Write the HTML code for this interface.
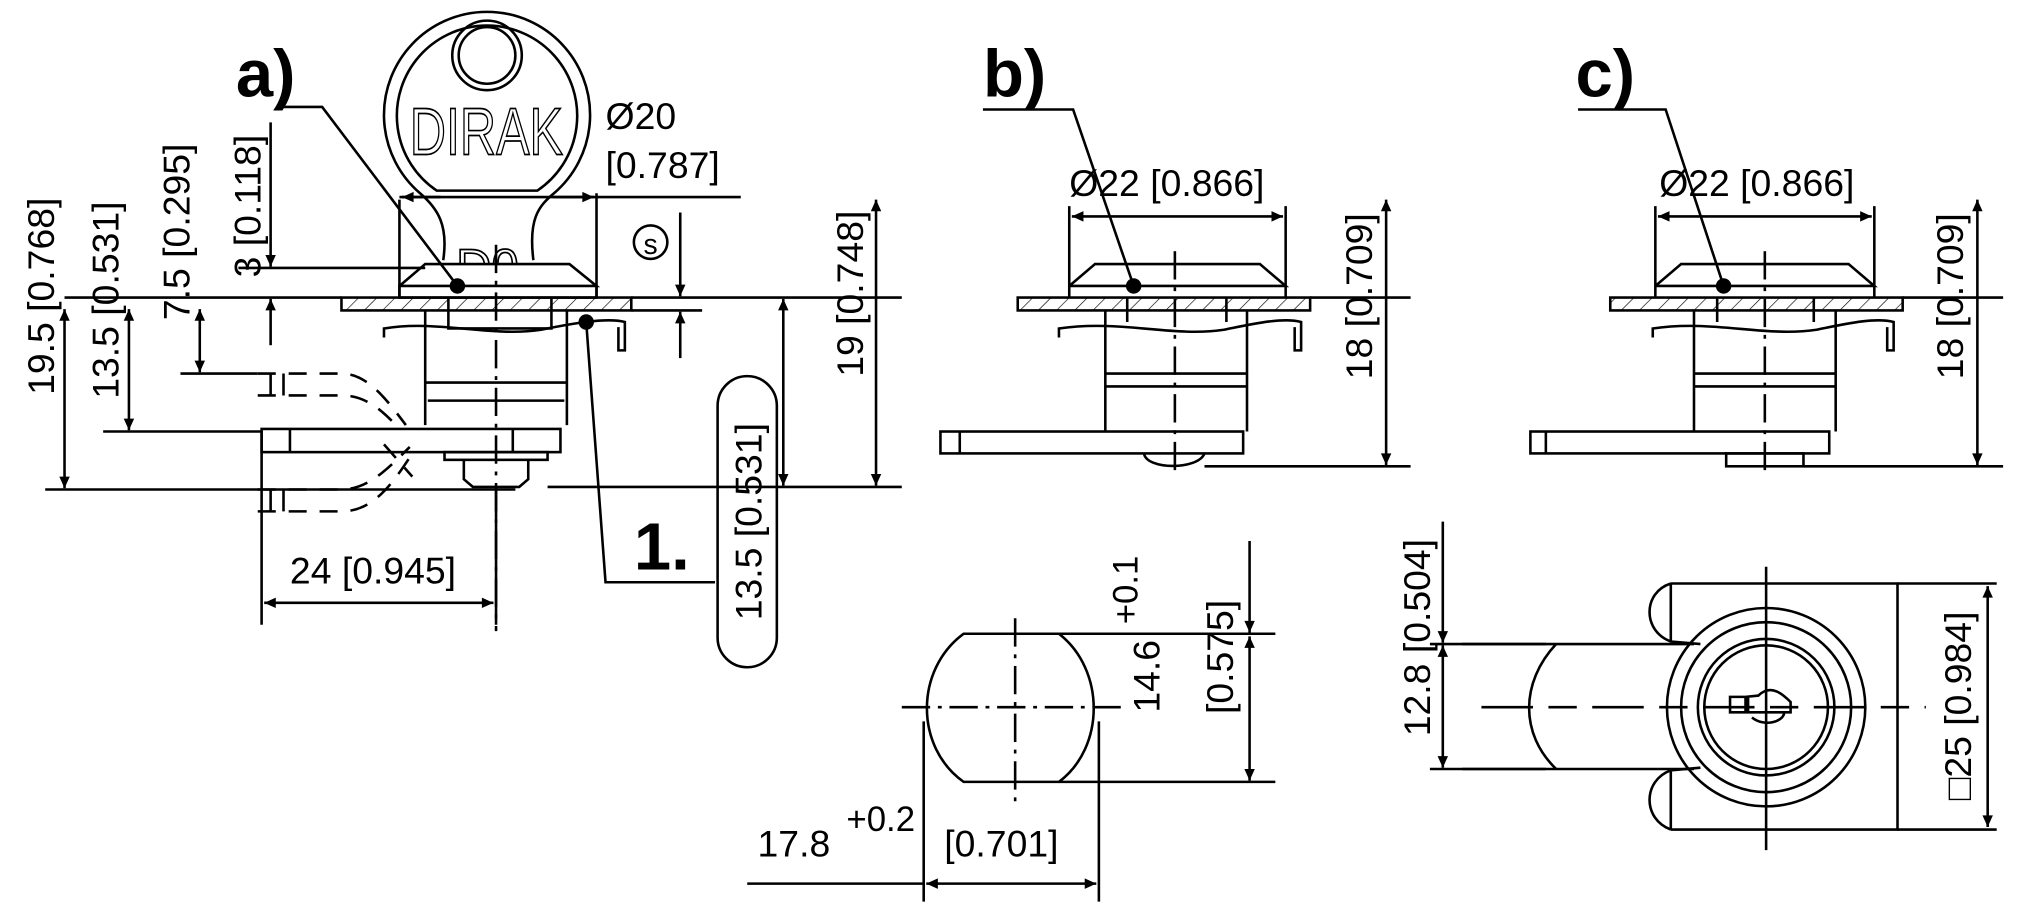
<!DOCTYPE html>
<html><head><meta charset="utf-8"><style>
html,body{margin:0;padding:0;background:#fff;}
svg{display:block}
text{font-family:"Liberation Sans",sans-serif;fill:#000}
.d{font-size:29px}
.b{font-size:52px;font-weight:bold}
</style></head><body>
<svg width="2020" height="921" viewBox="0 0 1568 715" xmlns="http://www.w3.org/2000/svg">
<defs>
<marker id="a" viewBox="0 0 10 10" refX="10" refY="5" markerWidth="20" markerHeight="9" markerUnits="userSpaceOnUse" orient="auto-start-reverse"><path d="M0,0.5 L10,5 L0,9.5z" fill="#000"/></marker>
<pattern id="h" width="10" height="10" patternUnits="userSpaceOnUse" patternTransform="rotate(45)"><line x1="0" y1="0" x2="0" y2="10" stroke="#000" stroke-width="1"/></pattern>
</defs>
<g fill="none" stroke="#000" stroke-width="2">
<!-- ===== a) ===== -->
<!-- key -->
<path d="M326,150 A80,80 0 1 1 430,150 C418,160 410,170 414,202 M326,150 C340,162 348,175 344,202"/>
<path d="M339,148 A70,70 0 1 1 417,148 Z"/>
<circle cx="378" cy="43" r="27"/><circle cx="378" cy="43" r="22"/>
<text x="318" y="120" font-size="52" textLength="119" lengthAdjust="spacingAndGlyphs" stroke="#000" stroke-width="1.3" style="fill:none">DIRAK</text>
<text x="354" y="220" font-size="38" stroke="#000" stroke-width="1.3" style="fill:none">D0</text>
<!-- bezel -->
<path d="M310,222 L330,205 L442,205 L463,222 L310,222 L310,231 L463,231 L463,222" fill="#fff"/>
<rect x="265" y="231" width="225" height="10" fill="url(#h)"/>
<path d="M330,241 L330,330 M440,241 L440,330 M330,297 L440,297 M332,311 L438,311 M348,231 L348,255 L428,255 L428,231"/>
<path d="M298,262 L298,255 C340,248 380,262 420,256 C440,252 470,246 485,250 L485,272 L480,272 L480,254"/>
<rect x="203" y="333" width="232" height="18"/>
<line x1="225" y1="333" x2="225" y2="351"/><line x1="398" y1="333" x2="398" y2="351"/>
<rect x="345" y="351" width="80" height="6"/>
<path d="M360,357 L360,372 L367,378 L403,378 L410,372 L410,357"/>
<!-- dashed cam -->
<g stroke-dasharray="14,10"><path d="M200,290 L265,290 C285,290 300,310 315,330"/><path d="M200,307 L265,307 C285,307 298,320 310,333"/><path d="M200,380 L265,380 C285,380 300,365 318,347"/><path d="M200,397 L265,397 C290,397 305,375 320,352"/><path d="M298,345 L320,370"/></g>
<path d="M210,290 L210,307 M220,290 L220,307 M210,380 L210,397 M220,380 L220,397"/>
<!-- centerline -->
<line x1="385" y1="190" x2="385" y2="490" stroke-dasharray="22,6,3,6"/>
<!-- leader a -->
<path d="M215,83 L250,83 L355,222" stroke-width="2"/>
<path d="M455,250 L470,452 L555,452"/>
<!-- dims a -->
<path d="M310,155 L310,231 M463,150 L463,231 M310,153 L575,153"/>
<line x1="312" y1="153" x2="342" y2="153" marker-start="url(#a)"/>
<line x1="430" y1="153" x2="461" y2="153" marker-end="url(#a)"/>
<path d="M35,380 L400,380 M80,335 L203,335 M140,290 L200,290 M185,208 L330,208 M50,231 L265,231"/>
<line x1="50" y1="240" x2="50" y2="379" marker-start="url(#a)" marker-end="url(#a)"/>
<line x1="100" y1="240" x2="100" y2="334" marker-start="url(#a)" marker-end="url(#a)"/>
<line x1="155" y1="240" x2="155" y2="289" marker-start="url(#a)" marker-end="url(#a)"/>
<line x1="210" y1="95" x2="210" y2="207" marker-end="url(#a)"/>
<line x1="210" y1="268" x2="210" y2="232" marker-end="url(#a)"/>
<path d="M203,335 L203,485 M385,380 L385,485"/>
<line x1="205" y1="468" x2="383" y2="468" marker-start="url(#a)" marker-end="url(#a)"/>
<path d="M490,231 L700,231 M490,241 L545,241 M425,378 L700,378"/>
<line x1="528" y1="165" x2="528" y2="230" marker-end="url(#a)"/>
<line x1="528" y1="278" x2="528" y2="242" marker-end="url(#a)"/>
<line x1="680" y1="155" x2="680" y2="377" marker-start="url(#a)" marker-end="url(#a)"/>
<line x1="608" y1="232" x2="608" y2="377" marker-start="url(#a)" marker-end="url(#a)"/>
<rect x="557" y="292" width="46" height="226" rx="23"/>
<circle cx="505" cy="188" r="13"/>
<!-- ===== b) ===== -->
<path d="M763,85 L833,85 L880,222"/>
<path d="M830,222 L850,205 L978,205 L998,222 L830,222 M830,160 L830,231 M998,160 L998,231"/>
<line x1="832" y1="168" x2="996" y2="168" marker-start="url(#a)" marker-end="url(#a)"/>
<rect x="790" y="231" width="227" height="10" fill="url(#h)"/>
<path d="M858,241 L858,335 M968,241 L968,335 M858,290 L968,290 M858,300 L968,300 M875,231 L875,250 M952,231 L952,250"/>
<path d="M822,262 L822,255 C870,248 910,262 950,256 C970,252 995,246 1010,250 L1010,272 L1005,272 L1005,254"/>
<rect x="730" y="335" width="235" height="17"/><line x1="745" y1="335" x2="745" y2="352"/>
<path d="M888,352 C890,365 930,365 935,352"/>
<line x1="912" y1="195" x2="912" y2="370" stroke-dasharray="22,6,3,6"/>
<path d="M1017,231 L1095,231 M935,362 L1095,362"/>
<line x1="1076" y1="155" x2="1076" y2="361" marker-start="url(#a)" marker-end="url(#a)"/>
<!-- ===== c) ===== -->
<path d="M1225,85 L1293,85 L1338,222"/>
<path d="M1285,222 L1305,205 L1435,205 L1455,222 L1285,222 M1285,160 L1285,231 M1455,160 L1455,231"/>
<line x1="1287" y1="168" x2="1453" y2="168" marker-start="url(#a)" marker-end="url(#a)"/>
<rect x="1250" y="231" width="227" height="10" fill="url(#h)"/>
<path d="M1315,241 L1315,335 M1425,241 L1425,335 M1315,290 L1425,290 M1315,300 L1425,300 M1333,231 L1333,250 M1408,231 L1408,250"/>
<path d="M1283,262 L1283,255 C1330,248 1370,262 1410,256 C1430,252 1455,246 1470,250 L1470,272 L1465,272 L1465,254"/>
<rect x="1188" y="335" width="232" height="17"/><line x1="1200" y1="335" x2="1200" y2="352"/>
<rect x="1340" y="352" width="60" height="10"/>
<line x1="1370" y1="195" x2="1370" y2="368" stroke-dasharray="22,6,3,6"/>
<path d="M1477,231 L1555,231 M1400,362 L1555,362"/>
<line x1="1535" y1="155" x2="1535" y2="361" marker-start="url(#a)" marker-end="url(#a)"/>
<!-- bottom middle cam profile -->
<path d="M748,492 L822,492 C858,520 858,580 822,607 L748,607 C710,580 710,520 748,492Z"/>
<path d="M700,549 L870,549 M788,480 L788,625" stroke-dasharray="22,6,3,6"/>
<path d="M822,492 L990,492 M822,607 L990,607 M717,560 L717,700 M853,560 L853,700 M580,686 L717,686"/>
<line x1="970" y1="420" x2="970" y2="491" marker-end="url(#a)"/>
<line x1="970" y1="494" x2="970" y2="606" marker-start="url(#a)" marker-end="url(#a)"/>
<line x1="719" y1="686" x2="851" y2="686" marker-start="url(#a)" marker-end="url(#a)"/>
<!-- bottom right -->
<path d="M1297,453 L1473,453 L1473,644 L1297,644 M1297,453 C1275,460 1275,490 1297,498 L1320,500 M1297,644 C1275,636 1275,606 1297,598 L1320,596 M1297,453 L1297,498 M1297,598 L1297,644"/>
<path d="M1135,500 L1208,500 C1180,530 1180,570 1208,597 L1135,597 M1208,500 L1315,500 M1208,597 L1315,597"/>
<circle cx="1371" cy="549" r="77"/><circle cx="1371" cy="549" r="66"/><circle cx="1371" cy="549" r="53"/><circle cx="1371" cy="549" r="48"/>
<path d="M1365,540 C1375,530 1385,540 1390,545 L1390,553 L1355,553 L1355,541 Z M1343,541 L1357,541 L1357,553 L1343,553Z M1360,557 C1370,565 1385,560 1385,553"/>
<line x1="1371" y1="440" x2="1371" y2="660"/>
<line x1="1150" y1="549" x2="1495" y2="549" stroke-dasharray="40,12,22,12"/>
<path d="M1473,453 L1550,453 M1473,644 L1550,644"/>
<line x1="1543" y1="455" x2="1543" y2="642" marker-start="url(#a)" marker-end="url(#a)"/>
<path d="M1110,500 L1200,500 M1110,597 L1200,597"/>
<line x1="1120" y1="405" x2="1120" y2="499" marker-end="url(#a)"/>
<line x1="1120" y1="501" x2="1120" y2="596" marker-start="url(#a)" marker-end="url(#a)"/>
</g>
<g fill="#000"><circle cx="355" cy="222" r="6"/><circle cx="455" cy="250" r="6"/><circle cx="880" cy="222" r="6"/><circle cx="1338" cy="222" r="6"/></g>
<!-- texts -->
<text class="b" x="183" y="75">a)</text>
<text class="b" x="763" y="75">b)</text>
<text class="b" x="1223" y="75">c)</text>
<text class="b" x="492" y="442">1.</text>
<text class="d" x="470" y="100">Ø20</text>
<text class="d" x="470" y="138">[0.787]</text>
<text x="505" y="197" font-size="22" text-anchor="middle">s</text>
<text class="d" x="225" y="453">24 [0.945]</text>
<text class="d" x="830" y="152">Ø22 [0.866]</text>
<text class="d" x="1288" y="152">Ø22 [0.866]</text>
<text class="d" x="588" y="665">17.8</text>
<text x="657" y="645" font-size="27">+0.2</text>
<text class="d" x="733" y="665">[0.701]</text>
<g class="d">
<text transform="translate(42,230) rotate(-90)" text-anchor="middle">19.5 [0.768]</text>
<text transform="translate(92,233) rotate(-90)" text-anchor="middle">13.5 [0.531]</text>
<text transform="translate(147,180) rotate(-90)" text-anchor="middle">7.5 [0.295]</text>
<text transform="translate(202,160) rotate(-90)" text-anchor="middle">3 [0.118]</text>
<text transform="translate(591,405) rotate(-90)" text-anchor="middle">13.5 [0.531]</text>
<text transform="translate(670,228) rotate(-90)" text-anchor="middle">19 [0.748]</text>
<text transform="translate(1065,230) rotate(-90)" text-anchor="middle">18 [0.709]</text>
<text transform="translate(1524,230) rotate(-90)" text-anchor="middle">18 [0.709]</text>
<text transform="translate(900,525) rotate(-90)" text-anchor="middle">14.6</text>
<text transform="translate(883,458) rotate(-90)" text-anchor="middle" font-size="27">+0.1</text>
<text transform="translate(957,510) rotate(-90)" text-anchor="middle">[0.575]</text>
<text transform="translate(1110,495) rotate(-90)" text-anchor="middle">12.8 [0.504]</text>
<text transform="translate(1530,548) rotate(-90)" text-anchor="middle">□25 [0.984]</text>
</g>
</svg>
</body></html>
